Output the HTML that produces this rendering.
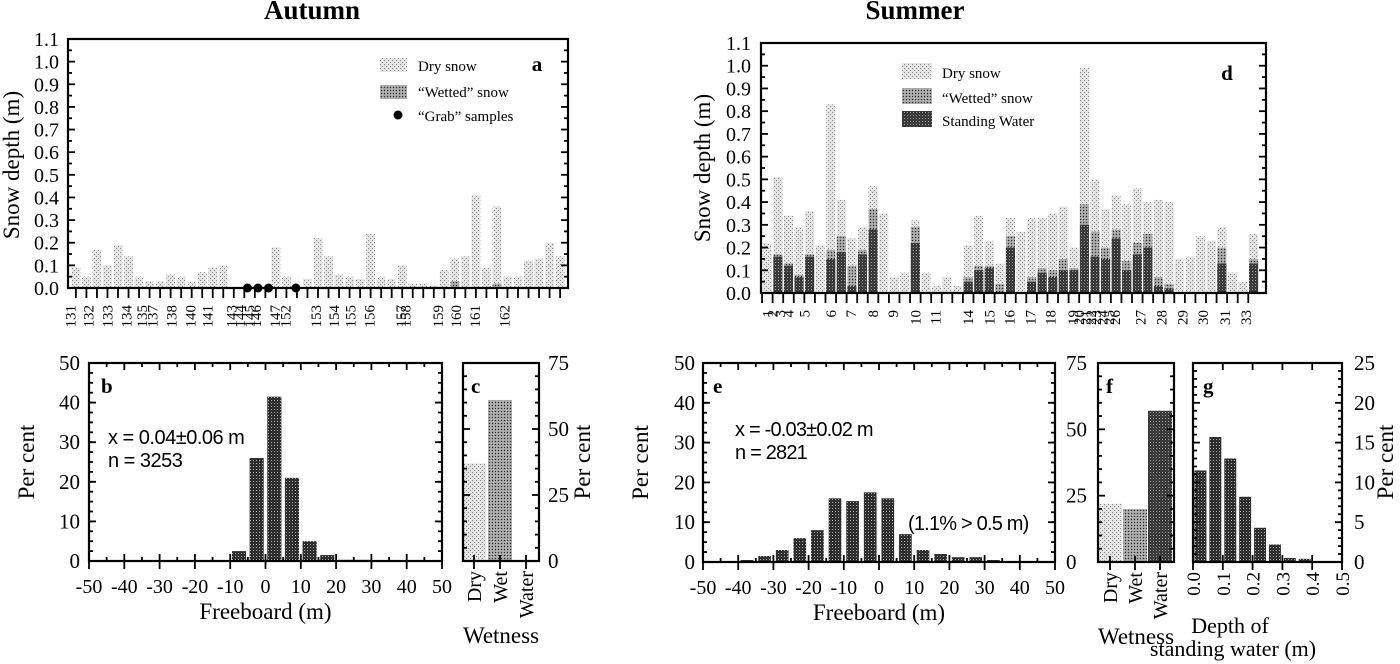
<!DOCTYPE html>
<html><head><meta charset="utf-8"><style>
html,body{margin:0;padding:0;background:#fff;}
svg{display:block;font-family:"Liberation Serif",serif;}
</style></head><body>
<svg id="fig" width="1400" height="664" viewBox="0 0 1400 664" xmlns="http://www.w3.org/2000/svg">
<defs>
<pattern id="pDry" width="4" height="4" patternUnits="userSpaceOnUse"><rect width="4" height="4" fill="#e4e4e4"/><rect x="0" y="0" width="1" height="1" fill="#888"/><rect x="2" y="2" width="1" height="1" fill="#888"/></pattern>
<pattern id="pWet" width="3" height="3" patternUnits="userSpaceOnUse"><rect width="3" height="3" fill="#9a9a9a"/><rect x="0" y="0" width="1" height="1" fill="#333"/><rect x="1.5" y="1.5" width="1" height="1" fill="#eee"/></pattern>
<pattern id="pWater" width="3" height="3" patternUnits="userSpaceOnUse"><rect width="3" height="3" fill="#3a3a3a"/><rect x="1" y="1" width="1" height="1" fill="#999"/></pattern>
<pattern id="pHist" width="3" height="3" patternUnits="userSpaceOnUse"><rect width="3" height="3" fill="#2e2e2e"/><rect x="1" y="1" width="1" height="1" fill="#aaa"/></pattern>
</defs>
<text x="312" y="19" font-size="27" font-weight="bold" text-anchor="middle">Autumn</text>
<text x="915" y="19" font-size="27" font-weight="bold" text-anchor="middle">Summer</text>
<g id="root"></g>
</svg>
<script>
// ---- Panel a (autumn snow depth) ----
const aDry = [0.09,0.05,0.17,0.10,0.19,0.14,0.05,0.03,0.03,0.06,0.05,0.03,0.07,0.09,0.10,0,0,0,0,0.18,0.05,0,0.04,0.22,0.14,0.06,0.05,0.04,0.24,0.05,0.04,0.10,0.02,0.02,0.01,0.08,0.13,0.14,0.41,0.09,0.36,0.05,0.05,0.12,0.13,0.20,0.14];
const aWet = [0,0,0,0,0,0,0,0,0,0,0,0,0,0,0,0,0,0,0,0,0,0,0,0,0,0,0,0,0,0,0,0,0,0,0,0,0.03,0,0,0,0.02,0,0,0,0,0,0];
const aGrab = [16.3,17.3,18.3,20.9];
const aLabels = ["131","132","133","134","135","137","138","140","141","143","144","145","146","147","152","153","154","155","156","157","158","159","160","161","162"];
const aLabelSlots = [-0.5,1.2,3,4.8,6.3,7.3,9.1,10.9,12.5,14.8,15.6,16.5,17.1,18.9,19.9,22.8,24.5,26.1,27.9,30.9,31.3,34.4,36.1,37.9,40.7];
// ---- Panel d (summer snow depth) ----
const dDry = [0.22,0.51,0.34,0.29,0.36,0.21,0.83,0.41,0.24,0.29,0.47,0.35,0.07,0.09,0.32,0.09,0.03,0.07,0.03,0.21,0.34,0.23,0.13,0.33,0.27,0.33,0.33,0.35,0.38,0.20,0.99,0.50,0.37,0.43,0.39,0.46,0.40,0.41,0.40,0.15,0.16,0.25,0.23,0.29,0.09,0.05,0.26];
const dWet = [0,0.17,0.13,0.08,0.17,0,0.19,0.25,0.12,0.19,0.37,0,0,0,0.29,0,0,0,0,0.07,0.12,0.12,0.04,0.25,0,0.07,0.11,0.10,0.15,0.11,0.39,0.27,0.20,0.28,0.14,0.22,0.26,0.07,0.04,0,0,0,0,0.20,0,0,0.15];
const dWater = [0,0.16,0.12,0.07,0.16,0,0.15,0.18,0.03,0.17,0.28,0,0,0,0.22,0,0,0,0,0.05,0.10,0.11,0,0.20,0,0.05,0.09,0.07,0.10,0.10,0.30,0.16,0.15,0.24,0.10,0.17,0.20,0.03,0.02,0,0,0,0,0.13,0,0,0.13];
const dLabels = ["1","2","3","4","5","6","7","8","9","10","11","14","15","16","17","18","19","20","21","22","23","24","25","26","27","28","29","30","31","33"];
const dLabelSlots = [0,0.5,1.2,2,3.5,6,7.9,10,11.9,14,15.9,19,21,22.9,24.9,26.8,28.9,29.5,30.1,30.6,31.1,31.7,32.3,32.9,35.3,37.3,39.3,41.2,43.3,45.3];
// ---- Panel b (autumn freeboard histogram) ----
const bBins = [-7.5,-2.5,2.5,7.5,12.5,17.5,22.5,27.5];
const bVals = [2.5,26,41.5,21,5,1.5,0.3,0.3];
// ---- Panel c (autumn wetness) ----
const cCats = ["Dry","Wet","Water"];
const cVals = [37,61,0];
// ---- Panel e (summer freeboard histogram) ----
const eBins = [-42.5,-37.5,-32.5,-27.5,-22.5,-17.5,-12.5,-7.5,-2.5,2.5,7.5,12.5,17.5,22.5,27.5,32.5,37.5,42.5];
const eVals = [0.2,0.5,1.5,3,6,8,16,15.3,17.5,16,7,3,2,1.2,1.2,0.5,0.2,0.2];
// ---- Panel f (summer wetness) ----
const fCats = ["Dry","Wet","Water"];
const fVals = [22,20,57];
// ---- Panel g (standing water depth) ----
const gBins = [0.025,0.075,0.125,0.175,0.225,0.275,0.325,0.375];
const gVals = [11.5,15.7,13,8.2,4.3,2.2,0.5,0.4];
const fbTicks = [-50,-40,-30,-20,-10,0,10,20,30,40,50];

const NS = "http://www.w3.org/2000/svg";
const root = document.getElementById('root');
function mk(tag, attrs, parent, txt){const e=document.createElementNS(NS,tag);for(const k in attrs)e.setAttribute(k,attrs[k]);if(txt!==undefined)e.textContent=txt;(parent||root).appendChild(e);return e;}
function lin(d0,d1,r0,r1){return v=>r0+(v-d0)*(r1-r0)/(d1-d0);}

function frame(g,L,R,T,B){const r=mk('rect',{x:L,y:T,width:R-L,height:B-T,fill:'none',stroke:'#000','stroke-width':2.2},g);}
function tickLine(g,x1,y1,x2,y2){mk('line',{x1:x1,y1:y1,x2:x2,y2:y2,stroke:'#000','stroke-width':1.8},g);}
function yTicks(g,y,L,R,vals,minor,both){vals.forEach(v=>{tickLine(g,L,y(v),L+7,y(v));if(both)tickLine(g,R,y(v),R-7,y(v));});minor.forEach(v=>{tickLine(g,L,y(v),L+4,y(v));if(both)tickLine(g,R,y(v),R-4,y(v));});}
function txt(g,x,y,s,size,anchor,name,extra){const t=mk('text',Object.assign({x:x,y:y,'font-size':size,'text-anchor':anchor||'start'},extra||{}),g,s);return t;}

// ===== Panel a =====
(function(){
const g=mk('g',{});
const L=68,R=568,T=39,B=288;
const y=lin(0,1.1,B,T); const sw=(R-L)/47.5; const x=i=>L+(i+0.75)*sw;
aDry.forEach((v,i)=>{const r=mk('rect',{x:x(i)-sw*0.42,y:y(v),width:sw*0.84,height:B-y(v),fill:'url(#pDry)'},g);});
aWet.forEach((v,i)=>{if(v>0){const r=mk('rect',{x:x(i)-sw*0.42,y:y(v),width:sw*0.84,height:B-y(v),fill:'url(#pWet)'},g);}});
aGrab.forEach((s,i)=>{const c=mk('circle',{cx:x(s),cy:B,r:4.5,fill:'#000'},g);});
frame(g,L,R,T,B);
const maj=[],mi=[];for(let k=0;k<=11;k++){maj.push(k/10);mi.push(k/10+0.05);}
yTicks(g,y,L,R,maj,mi.slice(0,11),true);
maj.forEach(v=>txt(g,59,y(v)+7,v.toFixed(1),20,'end','y-tick-label'));
for(let i=0;i<47;i++)tickLine(g,x(i),B,x(i),B+10);
aLabels.forEach((s,i)=>{txt(g,0,0,s,15,'end','x-sample-label',{transform:`translate(${x(aLabelSlots[i])+5},${B+17}) rotate(-90)`});});
txt(g,0,0,'Snow depth (m)',23,'middle','y-axis-title',{transform:'translate(19,165) rotate(-90)'});
mk('rect',{x:380,y:58,width:27,height:14,fill:'url(#pDry)'},g);
mk('rect',{x:380,y:85,width:27,height:14,fill:'url(#pWet)'},g);
mk('circle',{cx:398,cy:115,r:4.5,fill:'#000'},g);
txt(g,418,71,'Dry snow',15,'start','legend-dry');
txt(g,418,97,'\u201cWetted\u201d snow',15,'start','legend-wet');
txt(g,418,121,'\u201cGrab\u201d samples',15,'start','legend-grab');
txt(g,537,71,'a',21,'middle','panel-label-a',{'font-weight':'bold'});
})();

// ===== Panel d =====
(function(){
const g=mk('g',{});
const L=761,R=1266,T=43,B=293;
const y=lin(0,1.1,B,T); const sw=10.57; const x=i=>L+(i+0.6)*sw;
const layers=[[dDry,'url(#pDry)','dry'],[dWet,'url(#pWet)','wet'],[dWater,'url(#pWater)','water']];
layers.forEach(([arr,f,n])=>arr.forEach((v,i)=>{if(v>0){const r=mk('rect',{x:x(i)-sw*0.43,y:y(v),width:sw*0.86,height:B-y(v),fill:f},g);}}));
frame(g,L,R,T,B);
const maj=[],mi=[];for(let k=0;k<=11;k++){maj.push(k/10);if(k<11)mi.push(k/10+0.05);}
yTicks(g,y,L,R,maj,mi,true);
maj.forEach(v=>txt(g,751,y(v)+7,v.toFixed(1),20,'end','y-tick-label'));
for(let i=0;i<47;i++)tickLine(g,x(i)-sw/2,B,x(i)-sw/2,B+10);
dLabels.forEach((s,i)=>{txt(g,0,0,s,15,'end','x-sample-label',{transform:`translate(${x(dLabelSlots[i])+5},${B+17}) rotate(-90)`});});
txt(g,0,0,'Snow depth (m)',23,'middle','y-axis-title',{transform:'translate(710,168) rotate(-90)'});
mk('rect',{x:902,y:63,width:30,height:16,fill:'url(#pDry)'},g);
mk('rect',{x:902,y:88,width:30,height:16,fill:'url(#pWet)'},g);
mk('rect',{x:902,y:111,width:30,height:16,fill:'url(#pWater)'},g);
txt(g,942,78,'Dry snow',15,'start','legend-dry');
txt(g,942,103,'\u201cWetted\u201d snow',15,'start','legend-wet');
txt(g,942,126,'Standing Water',15,'start','legend-water');
txt(g,1227,80,'d',21,'middle','panel-label-d',{'font-weight':'bold'});
})();

// ===== Histogram helper =====
function hist(name,L,R,T,B,bins,vals,yMax,yStep,labX,labelLeft,barFrac,fill,label,labelX){
const g=mk('g',{});
const x=lin(-50,50,L,R), y=lin(0,yMax,B,T); const bw=(x(5)-x(0))*barFrac;
bins.forEach((b,i)=>{const r=mk('rect',{x:x(b)-bw/2,y:y(vals[i]),width:bw,height:B-y(vals[i]),fill:fill},g);});
frame(g,L,R,T,B);
const maj=[],mi=[];for(let v=0;v<=yMax;v+=yStep){maj.push(v);}for(let v=yStep/4;v<yMax;v+=yStep/4)mi.push(v);
yTicks(g,y,L,R,maj,mi,true);
if(labelLeft)maj.forEach(v=>txt(g,labX,y(v)+7,String(v),21,'end','y-tick-label'));
fbTicks.forEach(v=>{tickLine(g,x(v),B+8,x(v),B-7);tickLine(g,x(v),T,x(v),T+7);txt(g,x(v),B+32,String(v),20,'middle','x-tick-label');});
fbTicks.slice(0,10).forEach(v=>{tickLine(g,x(v+5),B,x(v+5),B-4);tickLine(g,x(v+5),T,x(v+5),T+4);});
txt(g,(L+R)/2,B+58,'Freeboard (m)',23,'middle','x-axis-title');
txt(g,0,0,'Per cent',23,'middle','y-axis-title',{transform:`translate(${L-55},${(T+B)/2}) rotate(-90)`});
txt(g,labelX,T+30,label,21,'start','panel-label-'+label,{'font-weight':'bold'});
return {g,x,y};
}
const hb=hist('panel-b-autumn-freeboard',89,442,363,561,bBins,bVals,50,10,80,true,0.8,'url(#pHist)','b',101);
txt(hb.g,108,444,'x = 0.04\u00b10.06 m',20,'start','mean-annotation',{'font-family':'"Liberation Sans",sans-serif','letter-spacing':'-0.5'});
txt(hb.g,108,467,'n = 3253',20,'start','count-annotation',{'font-family':'"Liberation Sans",sans-serif','letter-spacing':'-0.5'});
const he=hist('panel-e-summer-freeboard',703,1055,363,562,eBins,eVals,50,10,695,true,0.72,'url(#pHist)','e',713);
txt(he.g,735,436,'x = -0.03\u00b10.02 m',20,'start','mean-annotation',{'font-family':'"Liberation Sans",sans-serif','letter-spacing':'-0.8'});
txt(he.g,735,459,'n = 2821',20,'start','count-annotation',{'font-family':'"Liberation Sans",sans-serif','letter-spacing':'-0.8'});
txt(he.g,908,530,'(1.1% > 0.5 m)',20,'start','tail-annotation',{'font-family':'"Liberation Sans",sans-serif','letter-spacing':'-0.8'});

// ===== Wetness panels =====
function wet(name,L,R,T,B,cats,vals,catX,fills,label,rightLabX){
const g=mk('g',{});
const y=lin(0,75,B,T);
cats.forEach((c,i)=>{if(vals[i]>0){const r=mk('rect',{x:catX[i]-12,y:y(vals[i]),width:24,height:B-y(vals[i]),fill:fills[i]},g);}
 tickLine(g,catX[i],B+8,catX[i],B-6);
 txt(g,0,0,c,20,'end','category-label',{transform:`translate(${catX[i]+7},${B+10}) rotate(-90)`});});
frame(g,L,R,T,B);
const maj=[0,25,50,75],mi=[];for(let v=5;v<75;v+=5)if(v%25)mi.push(v);
yTicks(g,y,L,R,maj,mi,true);
maj.forEach(v=>txt(g,rightLabX,y(v)+7,String(v),21,'start','y-tick-label-right'));
txt(g,(L+R)/2,B+82,'Wetness',23,'middle','x-axis-title');
txt(g,L+8,T+30,label,21,'start','panel-label-'+label,{'font-weight':'bold'});
return g;}
const gc=wet('panel-c-autumn-wetness',463,539,363,561,cCats,cVals,[474,500,526],['url(#pDry)','url(#pWet)','url(#pWater)'],'c',548);
txt(gc,0,0,'Per cent',23,'middle','y-axis-title',{transform:'translate(590,462) rotate(-90)'});
wet('panel-f-summer-wetness',1098,1174,363,562,fCats,fVals,[1110,1135,1160],['url(#pDry)','url(#pWet)','url(#pWater)'],'f',1066);

// ===== Panel g =====
(function(){
const g=mk('g',{});
const L=1193,R=1342,T=363,B=562;
const x=lin(0,0.5,L,R), y=lin(0,25,B,T); const bw=(x(0.05)-x(0))*0.8;
gBins.forEach((b,i)=>{const r=mk('rect',{x:x(b)-bw/2,y:y(gVals[i]),width:bw,height:B-y(gVals[i]),fill:'url(#pHist)'},g);});
frame(g,L,R,T,B);
const maj=[0,5,10,15,20,25],mi=[];for(let v=1;v<25;v++)if(v%5)mi.push(v);
yTicks(g,y,L,R,maj,mi,true);
maj.forEach(v=>txt(g,1354,y(v)+7,String(v),21,'start','y-tick-label-right'));
[0,0.1,0.2,0.3,0.4,0.5].forEach(v=>{tickLine(g,x(v),B+8,x(v),B-7);tickLine(g,x(v),T,x(v),T+7);
 txt(g,0,0,v.toFixed(1),19,'end','x-tick-label',{transform:`translate(${x(v)+7},${B+10}) rotate(-90)`});});
txt(g,1230,633,'Depth of',22,'middle','x-axis-title-line1');
txt(g,1233,656,'standing water (m)',22,'middle','x-axis-title-line2');
txt(g,0,0,'Per cent',23,'middle','y-axis-title',{transform:'translate(1393,462) rotate(-90)'});
txt(g,1203,393,'g',21,'start','panel-label-g',{'font-weight':'bold'});
})();
</script>
</body></html>
